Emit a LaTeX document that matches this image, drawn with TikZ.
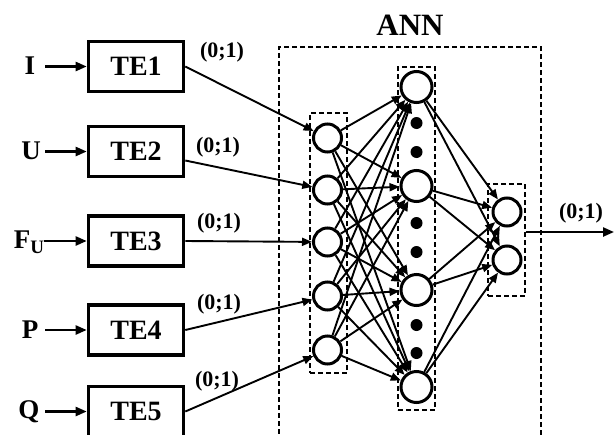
\documentclass[tikz,border=0pt]{standalone}
\usepackage{fontspec}
\setmainfont{Liberation Serif}
\usetikzlibrary{arrows.meta,calc}
\begin{document}
\begin{tikzpicture}[x=1pt,y=-1pt,
  font=\bfseries,
  tebox/.style={draw,line width=3.6pt,minimum width=95pt,minimum height=50pt,
    inner sep=0pt,font=\fontsize{28}{28}\selectfont\bfseries},
  neuron/.style={circle,draw,fill=white,line width=3pt,minimum size=28pt,inner sep=0pt},
  hneuron/.style={neuron,minimum size=31pt},
  dotn/.style={circle,fill=black,minimum size=12pt,inner sep=0pt},
  layer/.style={draw,line width=1.3pt,dash pattern=on 5pt off 3pt,inner sep=0pt},
  sig/.style={line width=1.9pt,-{Triangle[length=10pt,width=8pt]}},
  inarr/.style={line width=2.3pt,-{Triangle[length=11pt,width=9pt]}},
  lbl/.style={font=\fontsize{22}{22}\selectfont\bfseries,inner sep=0pt},
  inl/.style={font=\fontsize{27}{27}\selectfont\bfseries,inner sep=0pt},
]
\useasboundingbox (0,0) rectangle (615,434);
\fill[white] (0,0) rectangle (615,434);

% network frame and layer frames
\node[layer,minimum width=262pt,minimum height=390pt] (annbox) at (410,242) {};
\node[layer,minimum width=37pt,minimum height=260pt] (inbox) at (328.5,243) {};
\node[layer,minimum width=37pt,minimum height=343pt] (hidbox) at (416.5,238.5) {};
\node[layer,minimum width=37pt,minimum height=112pt] (outbox) at (506.5,240) {};
\node[font=\fontsize{31}{31}\selectfont\bfseries] (ann) at (410,25) {ANN};

% neurons
\foreach \i/\y in {1/138,2/190,3/242,4/296,5/350}
  \node[neuron] (in\i) at (327.5,\y) {};
\foreach \j/\y in {1/87,2/186,3/290,4/387}
  \node[hneuron] (h\j) at (416.5,\y) {};
\foreach \k/\y in {1/212,2/260}
  \node[neuron] (o\k) at (507,\y) {};
\foreach \d/\y in {1/123,2/152,3/223,4/252,5/325,6/353}
  \node[dotn] (dot\d) at (416.5,\y) {};

% weighted connections
\foreach \i in {1,...,5}
  \foreach \j in {1,...,4}
    \draw[sig] (in\i) -- (h\j);
\foreach \j in {1,...,4}
  \foreach \k in {1,2}
    \draw[sig] (h\j) -- (o\k);

% transducer blocks
\foreach \n/\y in {1/66.5,2/151.5,3/241,4/330,5/411.5}
  \node[tebox] (te\n) at (136,\y) {TE\n};

% measured quantities
\node[inl] (xI) at (30,66) {I};
\node[inl] (xU) at (31,151) {U};
\node[inl] (xF) at (29,242) {F\raisebox{-5pt}{\fontsize{19}{19}\selectfont U}};
\node[inl] (xP) at (30,330) {P};
\node[inl] (xQ) at (29,412) {Q};
\coordinate (s1) at (45,66.5);
\coordinate (s2) at (45,151.5);
\coordinate (s3) at (44,241);
\coordinate (s4) at (45,330);
\coordinate (s5) at (45,411.5);
\foreach \n in {1,...,5}
  \draw[inarr] (s\n) -- (te\n.west);

% normalised signals into the input layer
\draw[sig] (te1.east) -- (in1);
\draw[sig] ([yshift=-9pt]te2.east) -- (in2);
\draw[sig] (te3.east) -- (in3);
\draw[sig] (te4.east) -- (in4);
\draw[sig] (te5.east) -- (in5);
\node[lbl] (l1) at (222,52) {(0;1)};
\node[lbl] (l2) at (218,147) {(0;1)};
\node[lbl] (l3) at (219,223) {(0;1)};
\node[lbl] (l4) at (219,304) {(0;1)};
\node[lbl] (l5) at (217,381) {(0;1)};

% network output
\coordinate (oend) at (614,232);
\draw[inarr] (outbox.east |- oend) -- (oend);
\node[lbl] (lo) at (581,213) {(0;1)};
\end{tikzpicture}
\end{document}
